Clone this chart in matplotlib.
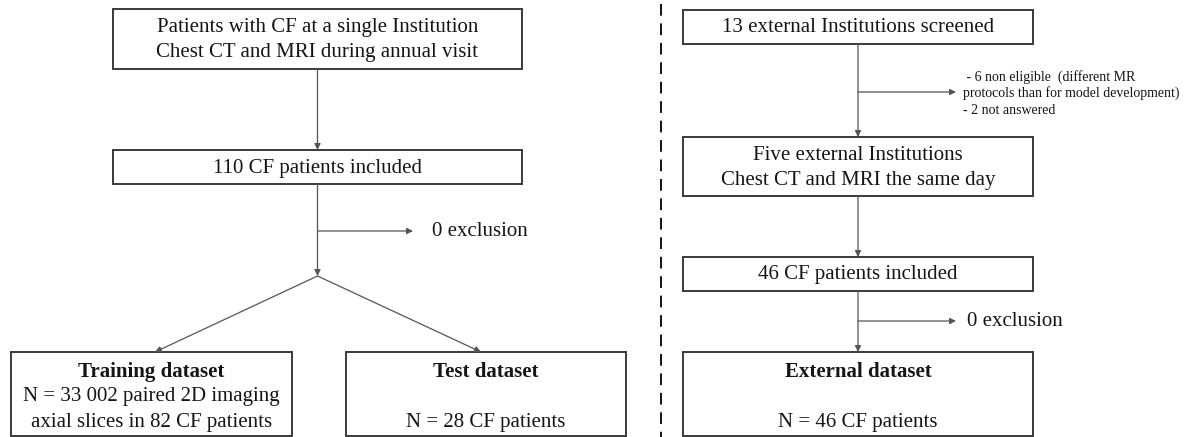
import matplotlib.pyplot as plt
from matplotlib.patches import Rectangle

plt.rcParams['font.family'] = ['Liberation Serif', 'DejaVu Serif']

# box texts (left: model development, right: external validation)
top_box = ["Patients with CF at a single Institution", "Chest CT and MRI during annual visit"]
included_box = ["110 CF patients included"]
train_title = "Training dataset"
train_lines = ["N = 33 002 paired 2D imaging", "axial slices in 82 CF patients"]
test_title = "Test dataset"
test_lines = ["N = 28 CF patients"]
exclusion_left = "0 exclusion"

ext_screen_box = ["13 external Institutions screened"]
ext_reasons = [" - 6 non eligible  (different MR", "protocols than for model development)", "- 2 not answered"]
ext_inst_box = ["Five external Institutions", "Chest CT and MRI the same day"]
ext_included_box = ["46 CF patients included"]
exclusion_right = "0 exclusion"
ext_title = "External dataset"
ext_lines = ["N = 46 CF patients"]

W, H = 1193, 437
fig = plt.figure(figsize=(W / 100, H / 100), dpi=100)
ax = fig.add_axes([0, 0, 1, 1])
ax.set_xlim(0, W)
ax.set_ylim(H, 0)
ax.axis("off")

edge = "#3a3a3a"
txt_c = "#151515"
fs = 15
fs_small = 10


def box(x0, y0, x1, y1):
    ax.add_patch(Rectangle((x0, y0), x1 - x0, y1 - y0, fill=False, ec=edge, lw=1.4))


def centered(lines, xc, yc, dy=25.5):
    n = len(lines)
    for i, t in enumerate(lines):
        y = yc + (i - (n - 1) / 2) * dy
        ax.text(xc, y, t, ha="center", va="center", fontsize=fs, color=txt_c)


def arrow(x0, y0, x1, y1):
    ax.annotate("", xy=(x1, y1), xytext=(x0, y0),
                arrowprops=dict(arrowstyle="-|>", color="#555555", lw=0.9,
                                mutation_scale=9, shrinkA=0, shrinkB=0))


# ---- left part ----
xl0, xl1 = 113, 522
xc = (xl0 + xl1) / 2
box(xl0, 8.5, xl1, 68.5)
centered(top_box, xc, 40)
arrow(xc, 68.5, xc, 150)
box(xl0, 150, xl1, 184)
centered(included_box, xc, 168)
arrow(xc, 184, xc, 276)
arrow(xc, 231, 413, 231)
ax.text(432, 232, exclusion_left, ha="left", va="center", fontsize=fs, color=txt_c)

arrow(xc, 276, 155, 352)
arrow(xc, 276, 481, 352)

box(11, 352, 292, 435.5)
ax.text((11 + 292) / 2, 372, train_title, ha="center", va="center", fontsize=fs,
        fontweight="bold", color=txt_c)
for i, t in enumerate(train_lines):
    ax.text((11 + 292) / 2, 397 + 25 * i, t, ha="center", va="center", fontsize=fs, color=txt_c)

box(346, 352, 626, 435.5)
ax.text((346 + 626) / 2, 372, test_title, ha="center", va="center", fontsize=fs,
        fontweight="bold", color=txt_c)
ax.text((346 + 626) / 2, 422, test_lines[0], ha="center", va="center", fontsize=fs, color=txt_c)

# separator
ax.plot([661, 661], [4, H], color="#111111", lw=1.4, ls=(0, (6, 4)))

# ---- right part ----
xr0, xr1 = 683, 1033
xrc = (xr0 + xr1) / 2
box(xr0, 10, xr1, 44)
centered(ext_screen_box, xrc, 28)
arrow(xrc, 44, xrc, 137)
arrow(xrc, 92, 956, 92)
for i, t in enumerate(ext_reasons):
    ax.text(963, 77 + 16.5 * i, t, ha="left", va="center", fontsize=fs_small, color=txt_c)

box(xr0, 137, xr1, 196)
centered(ext_inst_box, xrc, 168)
arrow(xrc, 196, xrc, 257)
box(xr0, 257, xr1, 291)
centered(ext_included_box, xrc, 275)
arrow(xrc, 291, xrc, 352)
arrow(xrc, 321, 956, 321)
ax.text(967, 322, exclusion_right, ha="left", va="center", fontsize=fs, color=txt_c)

box(xr0, 352, xr1, 435.5)
ax.text(xrc, 372, ext_title, ha="center", va="center", fontsize=fs,
        fontweight="bold", color=txt_c)
ax.text(xrc, 422, ext_lines[0], ha="center", va="center", fontsize=fs, color=txt_c)

fig.savefig("out.png", dpi=100)
